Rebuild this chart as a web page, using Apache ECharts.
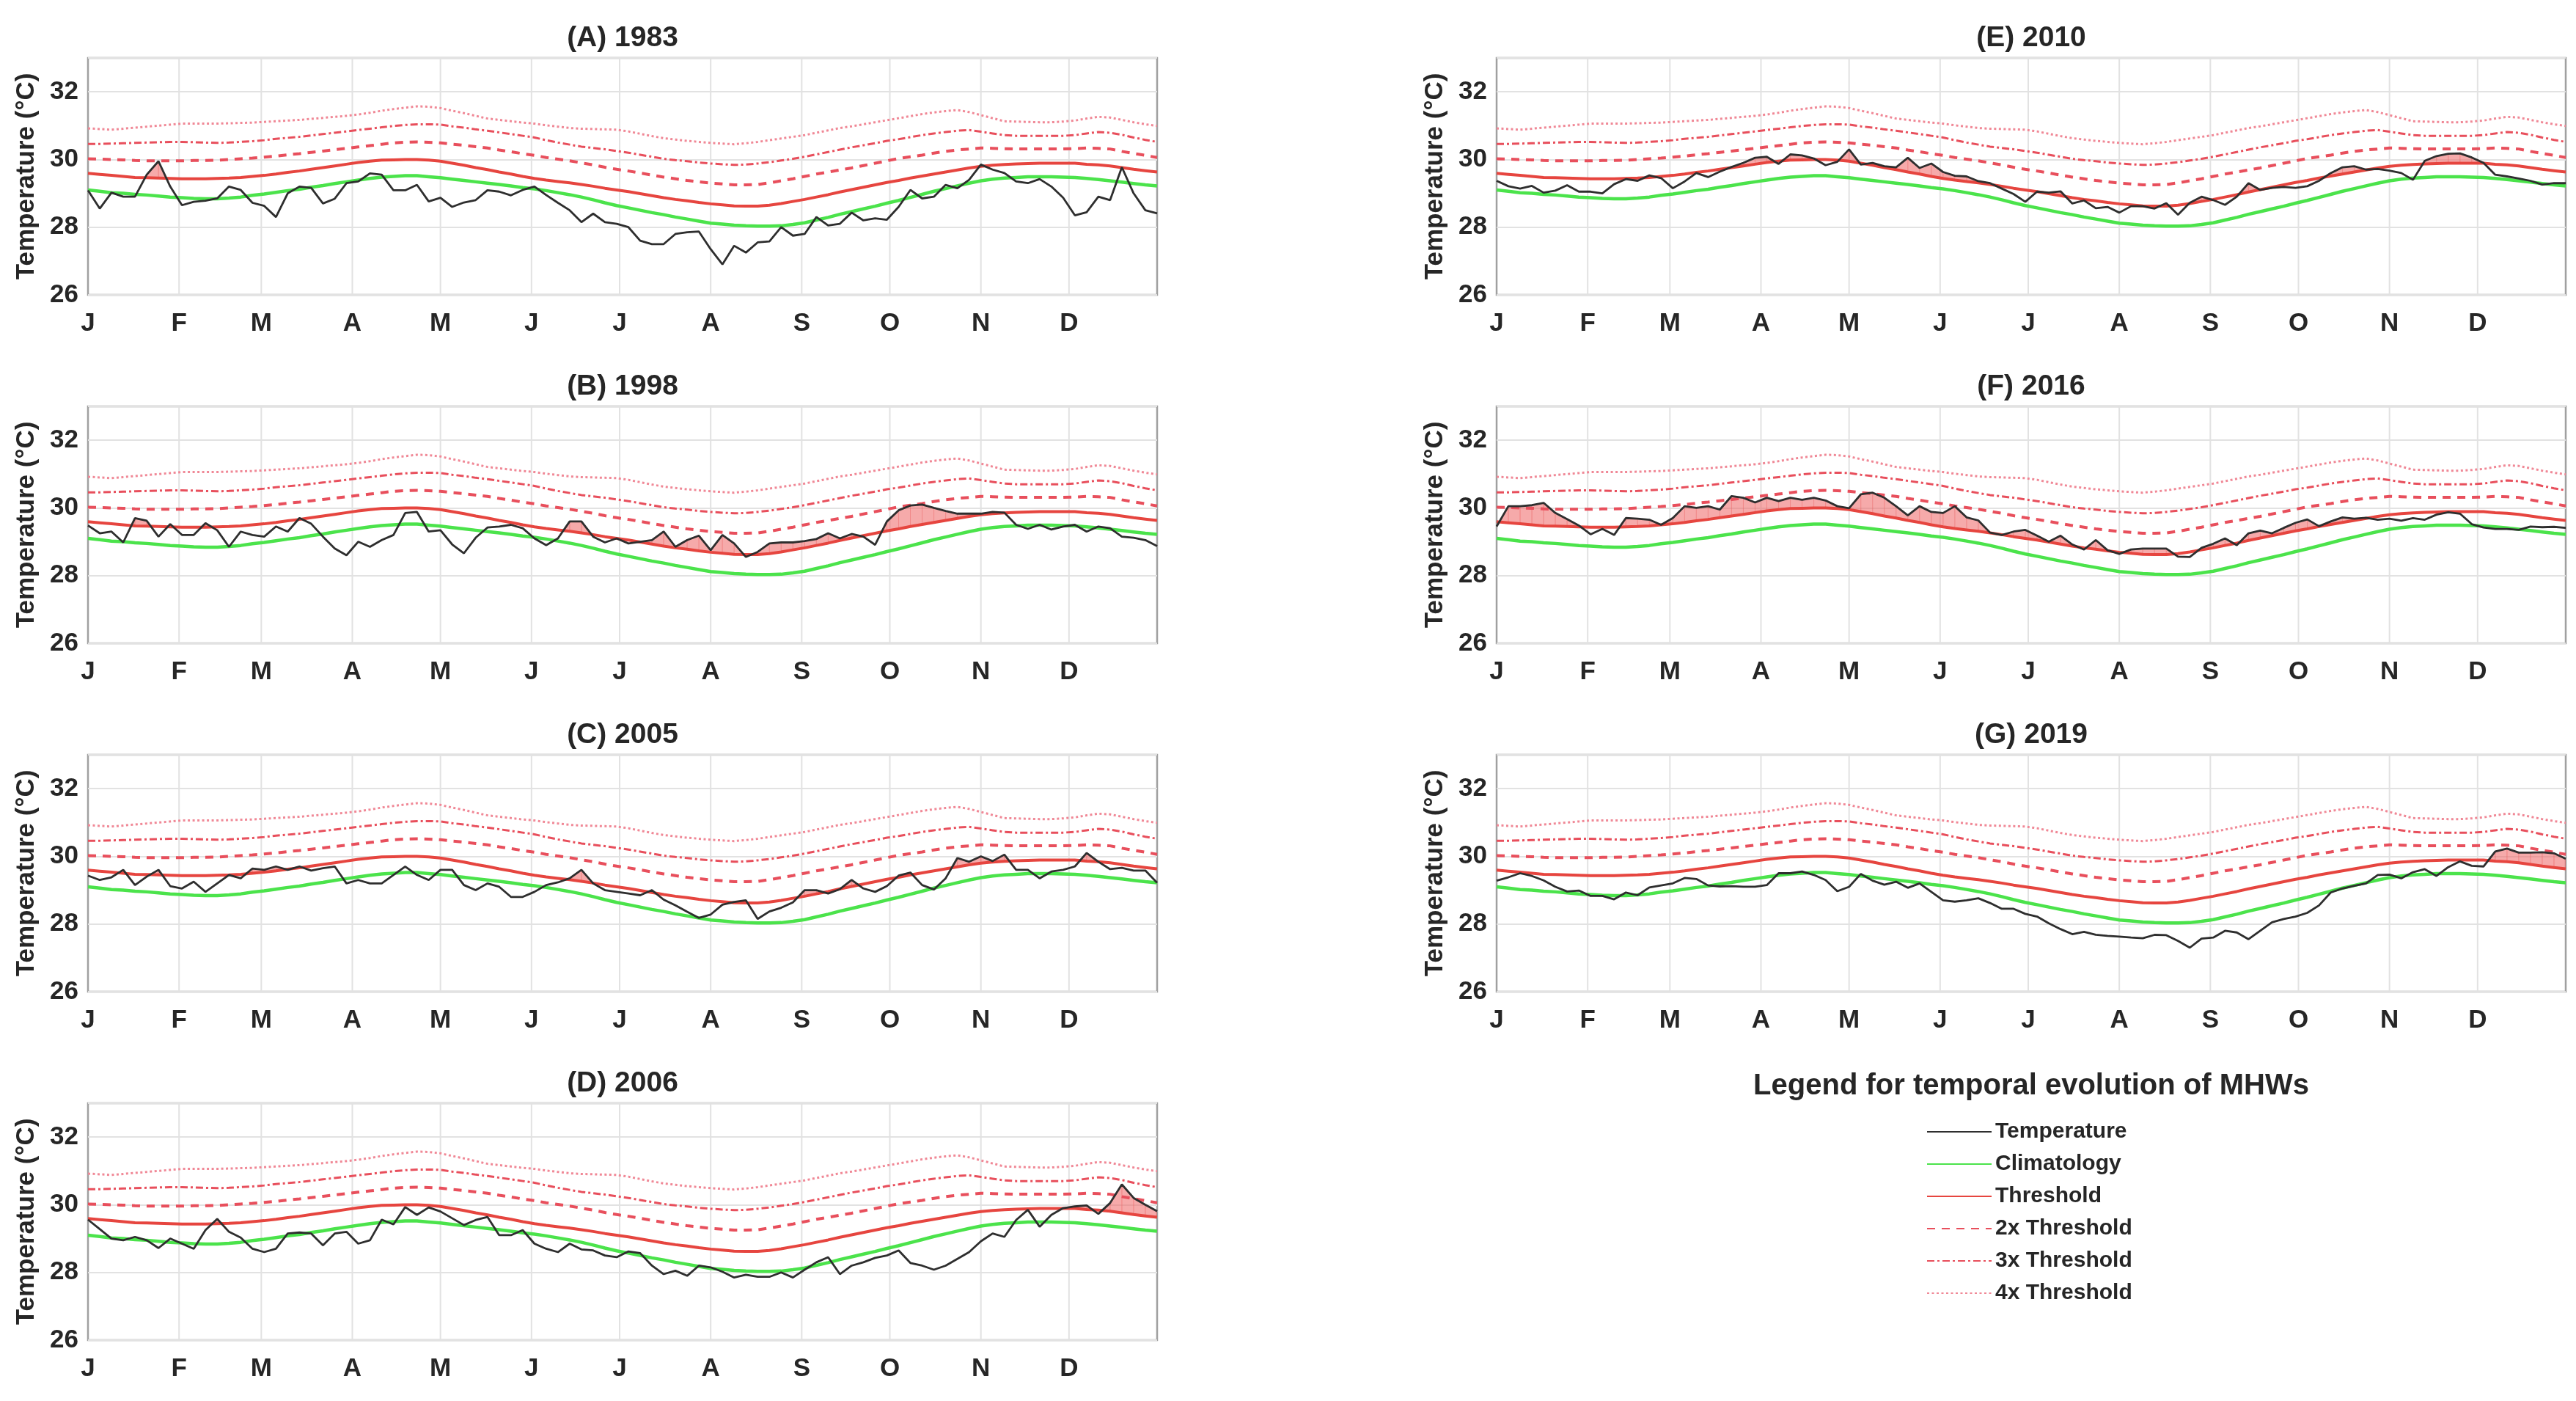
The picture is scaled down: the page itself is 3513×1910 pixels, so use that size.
<!DOCTYPE html>
<html><head><meta charset="utf-8">
<script src="https://cdn.jsdelivr.net/npm/echarts@6/dist/echarts.min.js"></script>
<style>html,body{margin:0;padding:0;background:#fff}#c{width:3513px;height:1910px}</style>
</head><body><div id="c"></div>
<script>
const days=[1,5,9,13,17,21,25,29,33,37,41,45,49,53,57,61,65,69,73,77,81,85,89,93,97,101,105,109,113,117,121,125,129,133,137,141,145,149,153,157,161,165,169,173,177,181,185,189,193,197,201,205,209,213,217,221,225,229,233,237,241,245,249,253,257,261,265,269,273,277,281,285,289,293,297,301,305,309,313,317,321,325,329,333,337,341,345,349,353,357,361,365];
const monthStarts=[1,32,60,91,121,152,182,213,244,274,305,335];
const monthLabels=['J','F','M','A','M','J','J','A','S','O','N','D'];
const yTicks=[26,28,30,32];

const climatology=[29.10,29.06,29.02,29.00,28.97,28.95,28.92,28.89,28.87,28.85,
28.84,28.84,28.86,28.89,28.94,28.98,29.03,29.08,29.12,29.18,
29.23,29.29,29.34,29.39,29.44,29.48,29.50,29.52,29.52,29.49,
29.46,29.42,29.38,29.34,29.30,29.26,29.22,29.17,29.13,29.08,
29.02,28.96,28.89,28.81,28.72,28.64,28.57,28.50,28.43,28.37,
28.30,28.24,28.18,28.12,28.09,28.06,28.04,28.03,28.03,28.04,
28.08,28.13,28.21,28.29,28.38,28.46,28.54,28.62,28.71,28.79,
28.88,28.97,29.06,29.14,29.22,29.30,29.37,29.42,29.45,29.47,
29.49,29.49,29.49,29.48,29.47,29.44,29.41,29.37,29.33,29.29,
29.25,29.22];
const threshold=[29.59,29.56,29.53,29.50,29.47,29.46,29.45,29.44,29.43,29.43,
29.43,29.44,29.45,29.47,29.50,29.53,29.57,29.62,29.66,29.71,
29.76,29.81,29.86,29.91,29.95,29.98,29.99,30.00,30.00,29.98,
29.95,29.89,29.83,29.76,29.70,29.63,29.57,29.50,29.44,29.39,
29.35,29.31,29.26,29.21,29.15,29.10,29.05,28.99,28.93,28.87,
28.82,28.78,28.73,28.69,28.66,28.63,28.62,28.62,28.65,28.70,
28.76,28.82,28.89,28.96,29.04,29.11,29.18,29.25,29.32,29.38,
29.45,29.51,29.57,29.63,29.69,29.75,29.80,29.83,29.85,29.87,
29.88,29.89,29.89,29.89,29.89,29.86,29.84,29.81,29.76,29.71,
29.67,29.63];
const threshold2x=[30.02,30.01,30.00,29.99,29.97,29.96,29.96,29.96,29.96,29.97,
29.97,29.98,30.00,30.02,30.04,30.07,30.10,30.14,30.17,30.21,
30.25,30.29,30.33,30.37,30.41,30.45,30.49,30.51,30.52,30.51,
30.49,30.45,30.42,30.38,30.34,30.28,30.23,30.17,30.12,30.06,
30.01,29.96,29.90,29.84,29.77,29.71,29.66,29.60,29.54,29.48,
29.43,29.38,29.34,29.30,29.28,29.25,29.25,29.26,29.31,29.37,
29.43,29.50,29.57,29.63,29.69,29.75,29.82,29.89,29.96,30.03,
30.08,30.13,30.19,30.24,30.28,30.31,30.34,30.33,30.32,30.31,
30.31,30.31,30.31,30.31,30.32,30.34,30.33,30.31,30.24,30.18,
30.12,30.06];
const threshold3x=[30.46,30.46,30.47,30.48,30.49,30.50,30.51,30.52,30.52,30.51,
30.50,30.49,30.50,30.52,30.54,30.57,30.61,30.64,30.67,30.71,
30.75,30.79,30.83,30.87,30.91,30.95,30.99,31.02,31.04,31.04,
31.03,30.98,30.94,30.89,30.85,30.80,30.75,30.70,30.65,30.57,
30.50,30.44,30.38,30.34,30.30,30.25,30.20,30.14,30.08,30.02,
29.98,29.95,29.91,29.88,29.86,29.84,29.85,29.88,29.92,29.97,
30.02,30.08,30.15,30.22,30.29,30.36,30.42,30.48,30.55,30.60,
30.66,30.72,30.77,30.81,30.85,30.87,30.82,30.77,30.72,30.70,
30.70,30.70,30.70,30.70,30.72,30.77,30.81,30.79,30.73,30.65,
30.58,30.52];
const threshold4x=[30.92,30.90,30.88,30.91,30.94,30.97,31.00,31.03,31.06,31.06,
31.06,31.06,31.07,31.08,31.09,31.11,31.13,31.15,31.17,31.20,
31.23,31.26,31.29,31.33,31.38,31.44,31.49,31.53,31.57,31.56,
31.52,31.44,31.37,31.29,31.21,31.17,31.13,31.09,31.06,31.01,
30.97,30.93,30.91,30.90,30.89,30.88,30.83,30.76,30.69,30.63,
30.59,30.55,30.52,30.49,30.47,30.45,30.48,30.52,30.57,30.62,
30.67,30.72,30.79,30.86,30.93,30.98,31.04,31.10,31.16,31.22,
31.28,31.34,31.39,31.43,31.46,31.40,31.31,31.22,31.13,31.12,
31.11,31.10,31.10,31.12,31.15,31.21,31.26,31.24,31.17,31.10,
31.04,30.99];

const temp1983=[29.09,28.55,29.02,28.9,28.9,29.55,29.95,29.2,28.65,28.75,
28.78,28.85,29.2,29.1,28.72,28.63,28.3,29.0,29.2,29.16,
28.7,28.84,29.3,29.35,29.59,29.55,29.09,29.09,29.25,28.76,
28.87,28.6,28.73,28.8,29.09,29.05,28.94,29.1,29.2,28.95,
28.72,28.5,28.15,28.4,28.15,28.1,28.0,27.6,27.5,27.5,
27.8,27.85,27.87,27.35,26.9,27.45,27.25,27.55,27.58,28.0,
27.75,27.8,28.3,28.05,28.1,28.43,28.2,28.26,28.22,28.6,
29.1,28.85,28.9,29.25,29.15,29.4,29.85,29.7,29.6,29.35,
29.3,29.42,29.2,28.87,28.35,28.44,28.9,28.8,29.77,29.0,
28.5,28.41];
const temp1998=[29.48,29.25,29.3,28.98,29.7,29.62,29.15,29.52,29.2,29.2,
29.55,29.34,28.85,29.3,29.2,29.15,29.45,29.3,29.7,29.53,
29.15,28.8,28.6,29.0,28.85,29.05,29.2,29.85,29.88,29.3,
29.34,28.92,28.66,29.12,29.42,29.45,29.5,29.4,29.1,28.9,
29.1,29.6,29.6,29.15,28.98,29.1,28.95,29.0,29.05,29.3,
28.85,29.05,29.18,28.75,29.2,28.95,28.55,28.7,28.95,28.98,
28.98,29.02,29.08,29.25,29.1,29.23,29.15,28.91,29.6,29.93,
30.07,30.1,30.0,29.91,29.83,29.83,29.83,29.88,29.86,29.5,
29.38,29.5,29.36,29.45,29.5,29.3,29.45,29.4,29.15,29.12,
29.05,28.87];
const temp2005=[29.43,29.3,29.38,29.6,29.15,29.4,29.6,29.12,29.05,29.25,
28.95,29.2,29.45,29.35,29.64,29.6,29.7,29.6,29.7,29.58,
29.65,29.7,29.2,29.3,29.2,29.2,29.45,29.7,29.45,29.3,
29.6,29.6,29.15,29.0,29.2,29.1,28.8,28.8,28.95,29.15,
29.23,29.35,29.6,29.2,29.0,28.95,28.9,28.85,29.0,28.72,
28.55,28.36,28.18,28.28,28.57,28.65,28.7,28.15,28.37,28.48,
28.64,29.0,29.0,28.9,29.03,29.3,29.05,28.95,29.12,29.43,
29.52,29.15,29.02,29.35,29.95,29.84,30.0,29.86,30.05,29.6,
29.6,29.35,29.55,29.6,29.7,30.1,29.84,29.62,29.66,29.58,
29.58,29.22];
const temp2006=[29.56,29.28,29.0,28.95,29.05,28.95,28.72,29.0,28.85,28.7,
29.25,29.58,29.2,29.03,28.7,28.6,28.7,29.15,29.18,29.15,
28.8,29.15,29.2,28.85,28.95,29.56,29.42,29.93,29.7,29.92,
29.8,29.6,29.4,29.55,29.64,29.1,29.1,29.25,28.85,28.7,
28.6,28.85,28.68,28.65,28.5,28.45,28.62,28.57,28.2,27.95,
28.05,27.9,28.2,28.15,28.02,27.85,27.93,27.87,27.87,28.0,
27.85,28.08,28.3,28.45,27.95,28.2,28.3,28.43,28.5,28.65,
28.28,28.2,28.08,28.2,28.4,28.6,28.92,29.15,29.05,29.55,
29.85,29.35,29.7,29.9,29.95,29.98,29.73,30.05,30.6,30.2,
30.0,29.81];
const temp2010=[29.37,29.21,29.14,29.22,29.02,29.08,29.24,29.05,29.05,29.0,
29.27,29.42,29.37,29.53,29.45,29.15,29.35,29.6,29.48,29.64,
29.78,29.9,30.05,30.08,29.87,30.15,30.12,30.03,29.83,29.93,
30.3,29.85,29.9,29.8,29.77,30.05,29.75,29.88,29.63,29.52,
29.5,29.36,29.3,29.14,28.98,28.75,29.05,29.02,29.06,28.7,
28.79,28.56,28.6,28.43,28.62,28.62,28.55,28.71,28.37,28.72,
28.9,28.8,28.66,28.9,29.3,29.1,29.16,29.19,29.16,29.21,
29.37,29.6,29.77,29.8,29.7,29.72,29.67,29.6,29.4,29.96,
30.1,30.17,30.18,30.06,29.9,29.55,29.5,29.44,29.37,29.26,
29.3,29.3];
const temp2016=[29.45,30.05,30.05,30.08,30.15,29.85,29.67,29.48,29.22,29.38,
29.2,29.7,29.68,29.65,29.5,29.7,30.05,30.0,30.05,29.95,
30.35,30.3,30.16,30.3,30.2,30.3,30.24,30.3,30.22,30.05,
29.99,30.4,30.45,30.3,30.05,29.78,30.05,29.88,29.85,30.05,
29.72,29.63,29.27,29.2,29.3,29.35,29.18,29.0,29.18,28.92,
28.77,29.05,28.75,28.64,28.77,28.8,28.8,28.8,28.56,28.55,
28.82,28.94,29.1,28.9,29.25,29.33,29.25,29.41,29.56,29.66,
29.46,29.6,29.72,29.68,29.71,29.65,29.68,29.62,29.7,29.65,
29.8,29.87,29.83,29.52,29.42,29.38,29.38,29.35,29.45,29.43,
29.44,29.41];
const temp2019=[29.28,29.38,29.5,29.42,29.29,29.1,28.96,28.99,28.83,28.83,
28.73,28.93,28.85,29.08,29.14,29.2,29.36,29.33,29.14,29.11,
29.12,29.1,29.1,29.15,29.5,29.5,29.55,29.45,29.3,28.97,
29.1,29.48,29.28,29.16,29.25,29.07,29.2,28.95,28.7,28.66,
28.7,28.76,28.62,28.45,28.45,28.3,28.22,28.02,27.85,27.7,
27.77,27.68,27.65,27.63,27.6,27.58,27.68,27.67,27.5,27.3,
27.57,27.6,27.8,27.75,27.55,27.8,28.05,28.15,28.22,28.33,
28.55,28.93,29.05,29.13,29.2,29.45,29.46,29.35,29.53,29.62,
29.42,29.68,29.85,29.72,29.7,30.14,30.23,30.11,30.11,30.12,
30.09,29.93];

const panelTitles=['(A) 1983','(B) 1998','(C) 2005','(D) 2006','(E) 2010','(F) 2016','(G) 2019'];
const panelTemps=[temp1983,temp1998,temp2005,temp2006,temp2010,temp2016,temp2019];
const legendNames=['Temperature','Climatology','Threshold','2x Threshold','3x Threshold','4x Threshold'];

// layout (pixels)
const PW=1458, PH=323;
const panelPos=[[120,79],[120,554],[120,1029],[120,1504],[2041,79],[2041,554],[2041,1029]];

const FONT='"Liberation Sans", Arial, Helvetica, sans-serif';
const TXT='#262626';
const GRIDC='#e2e2e2';
const FILLC='rgba(238,100,100,0.55)';
const pairs=arr=>days.map((d,i)=>[d,arr[i]]);

// fill between temperature and threshold where temperature exceeds it
function fillItem(params,api){
  const x0=api.value(0),x1=api.value(1),t0=api.value(2),t1=api.value(3),h0=api.value(4),h1=api.value(5);
  const e0=t0-h0,e1=t1-h1;
  let pts=null;
  if(e0>0&&e1>0){pts=[[x0,t0],[x1,t1],[x1,h1],[x0,h0]];}
  else if(e0>0&&e1<=0){const f=e0/(e0-e1);pts=[[x0,t0],[x0+f*(x1-x0),h0+f*(h1-h0)],[x0,h0]];}
  else if(e0<=0&&e1>0){const f=e0/(e0-e1);pts=[[x0+f*(x1-x0),h0+f*(h1-h0)],[x1,t1],[x1,h1]];}
  if(!pts) return null;
  return {type:'polygon',shape:{points:pts.map(p=>api.coord(p))},style:{fill:FILLC,stroke:FILLC,lineWidth:0.6}};
}
// vertical month grid lines
function vLineItem(params,api){
  const a=api.coord([api.value(0),26]),b=api.coord([api.value(0),33]);
  return {type:'line',shape:{x1:a[0],y1:a[1],x2:b[0],y2:b[1]},style:{stroke:GRIDC,lineWidth:2}};
}

const grids=[],xAxes=[],yAxes=[],series=[],titles=[];
panelTemps.forEach((temp,k)=>{
  const [L,T]=panelPos[k];
  grids.push({left:L,top:T,width:PW,height:PH,show:true,borderColor:'#a0a0a0',borderWidth:2.5,backgroundColor:'rgba(0,0,0,0)'});
  titles.push({text:panelTitles[k],left:L+PW/2,top:T-46,textAlign:'center',padding:0,
    textStyle:{fontSize:39,fontWeight:'bold',color:TXT,fontFamily:FONT}});
  xAxes.push({gridIndex:k,type:'value',min:1,max:365,
    axisLine:{show:false},axisTick:{show:false},splitLine:{show:false},
    axisLabel:{customValues:monthStarts,formatter:v=>{const j=monthStarts.indexOf(v);return j>=0?monthLabels[j]:'';},
      fontSize:35,fontWeight:'bold',color:TXT,fontFamily:FONT,margin:22}});
  yAxes.push({gridIndex:k,type:'value',min:26,max:33,interval:2,
    axisLine:{show:false},axisTick:{show:false},
    splitLine:{show:true,lineStyle:{color:GRIDC,width:2}},
    axisLabel:{formatter:v=>yTicks.indexOf(v)>=0?String(v):'',fontSize:35,fontWeight:'bold',color:TXT,fontFamily:FONT,margin:13},
    name:'Temperature (°C)',nameLocation:'middle',nameGap:66,nameRotate:90,
    nameTextStyle:{fontSize:35,fontWeight:'bold',color:TXT,fontFamily:FONT}});
  const common={xAxisIndex:k,yAxisIndex:k,silent:true,animation:false};
  series.push(Object.assign({},common,{type:'custom',renderItem:vLineItem,z:1,
    data:monthStarts.slice(1).map(v=>[v]),encode:{x:0}}));
  series.push(Object.assign({},common,{type:'custom',renderItem:fillItem,z:2,clip:true,
    data:days.slice(0,-1).map((d,i)=>[d,days[i+1],temp[i],temp[i+1],threshold[i],threshold[i+1]]),
    encode:{x:[0,1],y:[2,3,4,5]}}));
  const line={type:'line',symbol:'none',showSymbol:false};
  series.push(Object.assign({},common,line,{name:'4x Threshold',data:pairs(threshold4x),z:3,
    itemStyle:{color:'#f08896'},lineStyle:{color:'#f08896',width:3,type:[3,3.5]}}));
  series.push(Object.assign({},common,line,{name:'3x Threshold',data:pairs(threshold3x),z:3,
    itemStyle:{color:'#e84f5c'},lineStyle:{color:'#e84f5c',width:3,type:[10,4,3,4]}}));
  series.push(Object.assign({},common,line,{name:'2x Threshold',data:pairs(threshold2x),z:3,
    itemStyle:{color:'#e84f5c'},lineStyle:{color:'#e84f5c',width:4,type:[11,9]}}));
  series.push(Object.assign({},common,line,{name:'Threshold',data:pairs(threshold),z:4,
    itemStyle:{color:'#e6453f'},lineStyle:{color:'#e6453f',width:4,type:'solid'}}));
  series.push(Object.assign({},common,line,{name:'Climatology',data:pairs(climatology),z:4,
    itemStyle:{color:'#4be34b'},lineStyle:{color:'#4be34b',width:4.5,type:'solid'}}));
  series.push(Object.assign({},common,line,{name:'Temperature',data:pairs(temp),z:5,
    itemStyle:{color:'#2e2e2e'},lineStyle:{color:'#2e2e2e',width:2.8,type:'solid'}}));
});
titles.push({text:'Legend for temporal evolution of MHWs',left:2770,top:1461,textAlign:'center',padding:0,
  textStyle:{fontSize:40,fontWeight:'bold',color:TXT,fontFamily:FONT}});

const chart=echarts.init(document.getElementById('c'),null,{renderer:'canvas'});
chart.setOption({
  backgroundColor:'#ffffff',animation:false,
  textStyle:{fontFamily:FONT},
  title:titles,grid:grids,xAxis:xAxes,yAxis:yAxes,series:series,
  legend:{orient:'vertical',left:2622,top:1523,itemWidth:88,itemHeight:30,itemGap:14,selectedMode:false,
    itemStyle:{opacity:0},
    data:legendNames,textStyle:{fontSize:30,fontWeight:'bold',color:TXT,fontFamily:FONT}}
});
</script></body></html>
